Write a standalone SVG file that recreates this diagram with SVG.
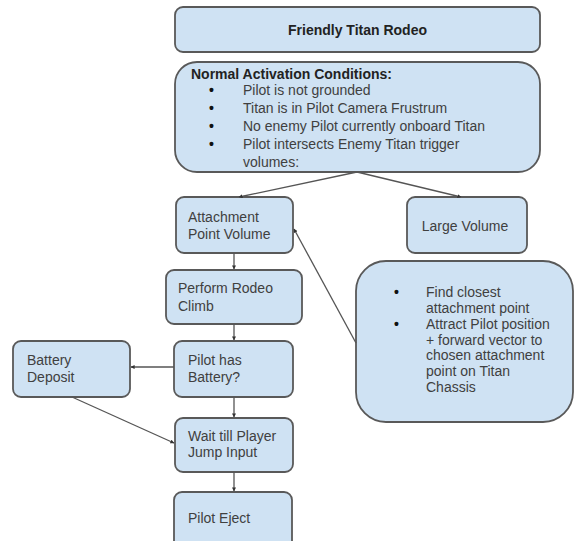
<svg xmlns="http://www.w3.org/2000/svg" width="574" height="541" viewBox="0 0 574 541">
<defs>
<marker id="ah" viewBox="0 0 10 10" refX="9" refY="5" markerWidth="4" markerHeight="4" orient="auto" markerUnits="userSpaceOnUse">
<path d="M0,0 L10,5 L0,10 z" fill="#333"/>
</marker>
<style>
.box{fill:#cfe2f3;stroke:#595959;stroke-width:1.8}
.t{font-family:"Liberation Sans",Arial,sans-serif;font-size:14px;fill:#404040}
.b{font-weight:bold;fill:#222}
.d{font-weight:bold;fill:#111}
.c{fill:none;stroke:#555;stroke-width:1.3;marker-end:url(#ah)}
</style>
</defs>
<rect width="574" height="541" fill="#fff"/>
<g id="title">
<rect class="box" x="175" y="7" width="365" height="45" rx="8"/>
<text class="t b" x="357.5" y="35" text-anchor="middle">Friendly Titan Rodeo</text>
</g>
<g id="conditions">
<rect class="box" x="175" y="62" width="365" height="110" rx="22"/>
<text class="t b" x="191" y="79">Normal Activation Conditions:</text>
<g class="t">
<text class="d" x="209" y="95">•</text><text x="243" y="95">Pilot is not grounded</text>
<text class="d" x="209" y="113">•</text><text x="243" y="113">Titan is in Pilot Camera Frustrum</text>
<text class="d" x="209" y="131">•</text><text x="243" y="131">No enemy Pilot currently onboard Titan</text>
<text class="d" x="209" y="149">•</text><text x="243" y="149">Pilot intersects Enemy Titan trigger</text>
<text x="243" y="167">volumes:</text>
</g>
</g>
<g id="attachment">
<rect class="box" x="176" y="197" width="117" height="56" rx="8"/>
<text class="t" x="188" y="222">Attachment</text>
<text class="t" x="188" y="239">Point Volume</text>
</g>
<g id="large">
<rect class="box" x="407" y="197" width="120" height="56" rx="8"/>
<text class="t" x="465" y="231" text-anchor="middle">Large Volume</text>
</g>
<g id="rodeo">
<rect class="box" x="166" y="270" width="136" height="54" rx="8"/>
<text class="t" x="178" y="293">Perform Rodeo</text>
<text class="t" x="178" y="311">Climb</text>
</g>
<g id="find">
<rect class="box" x="356" y="261" width="217" height="161" rx="30"/>
<g class="t">
<text class="d" x="394" y="297">•</text><text x="426" y="297">Find closest</text>
<text x="426" y="313">attachment point</text>
<text class="d" x="394" y="329">•</text><text x="426" y="329">Attract Pilot position</text>
<text x="426" y="345">+ forward vector to</text>
<text x="426" y="360">chosen attachment</text>
<text x="426" y="376">point on Titan</text>
<text x="426" y="392">Chassis</text>
</g>
</g>
<g id="battery">
<rect class="box" x="174" y="341" width="119" height="56" rx="8"/>
<text class="t" x="188" y="365">Pilot has</text>
<text class="t" x="188" y="382">Battery?</text>
</g>
<g id="deposit">
<rect class="box" x="13" y="341" width="117" height="56" rx="8"/>
<text class="t" x="27" y="365">Battery</text>
<text class="t" x="27" y="382">Deposit</text>
</g>
<g id="wait">
<rect class="box" x="175" y="418" width="118" height="54" rx="8"/>
<text class="t" x="188" y="441">Wait till Player</text>
<text class="t" x="188" y="457">Jump Input</text>
</g>
<g id="eject">
<rect class="box" x="174" y="492" width="118" height="60" rx="8"/>
<text class="t" x="188" y="523">Pilot Eject</text>
</g>
<g id="connectors">
<line class="c" x1="357" y1="172" x2="239" y2="197"/>
<line class="c" x1="357" y1="172" x2="461" y2="197"/>
<line class="c" x1="234" y1="253" x2="234" y2="269"/>
<line class="c" x1="234" y1="324" x2="234" y2="340"/>
<line class="c" x1="174" y1="367" x2="131" y2="367"/>
<line class="c" x1="234" y1="397" x2="234" y2="417"/>
<line class="c" x1="72" y1="397" x2="174" y2="443"/>
<line class="c" x1="234" y1="472" x2="234" y2="491"/>
<line class="c" x1="356" y1="343" x2="294" y2="229"/>
</g>
</svg>
